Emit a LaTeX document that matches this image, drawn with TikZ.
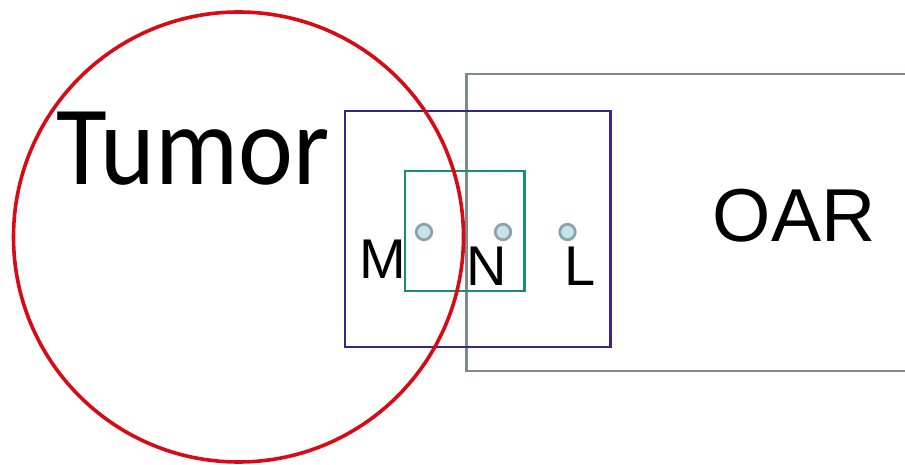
\documentclass[tikz,border=0pt]{standalone}
\usepackage{fontspec}
\setmainfont{Liberation Sans}
\newfontfamily\tumorfont{Carlito}
\definecolor{tumorred}{HTML}{D80A14}
\definecolor{boxpurple}{HTML}{3A2485}
\definecolor{boxgreen}{HTML}{16906E}
\definecolor{oargray}{HTML}{7E8A8C}
\definecolor{dotline}{HTML}{8EA2AA}
\definecolor{dotfill}{HTML}{C4E4EC}
\tikzset{
  label/.style={inner sep=0pt, anchor=base, text=black},
  pointdot/.style={circle, draw=dotline, fill=dotfill, line width=2.8pt, minimum size=15.5pt, inner sep=0pt},
}
\begin{document}
\begin{tikzpicture}[x=1pt,y=-1pt]
\useasboundingbox (0,0) rectangle (905,465);
% OAR region
\draw[oargray, line width=2.2pt] (910,74) -- (466.5,74) -- (466.5,371) -- (910,371);
% outer (purple) box
\draw[boxpurple, line width=2.6pt] (345,111) rectangle (610.5,347);
% inner (green) box
\draw[boxgreen, line width=2.6pt] (405,171) rectangle (524.5,291);
% tumor circle
\draw[tumorred, line width=3.6pt] (238.5,237) circle[radius=225];
% points
\node[pointdot] (pm) at (424,232) {};
\node[pointdot] (pn) at (503,232) {};
\node[pointdot] (pl) at (567.5,232) {};
% labels
\node[label, font=\tumorfont\fontsize{113}{113}\selectfont, xscale=0.92] (tumor) at (193,185) {Tumor};
\node[label, font=\fontsize{75}{75}\selectfont] (oar) at (794,241.7) {OAR};
\node[label, font=\fontsize{56}{56}\selectfont] (m) at (382.5,278) {M};
\node[label, font=\fontsize{56}{56}\selectfont] (n) at (486.7,285) {N};
\node[label, font=\fontsize{56}{56}\selectfont] (l) at (580.5,285) {L};
\end{tikzpicture}
\end{document}
